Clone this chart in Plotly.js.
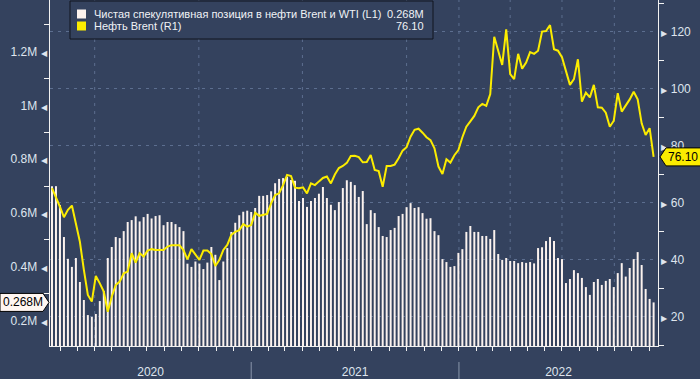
<!DOCTYPE html>
<html><head><meta charset="utf-8">
<script src="https://cdn.plot.ly/plotly-3.0.1.min.js"></script>
<style>html,body{margin:0;padding:0;background:#34425e;}#chart{width:700px;height:379px;}</style>
</head><body><div id="chart"></div>
<script>
// ---- data ----
const firstWeek = '2020-01-17';   // weekly (Friday) observations
const positions = [
0.70,0.70,0.63,0.511,0.43,0.40,0.433,0.344,0.277,0.221,
0.214,0.225,0.273,0.31,0.433,0.474,0.511,0.507,0.533,0.567,
0.574,0.588,0.569,0.585,0.597,0.58,0.589,0.592,0.555,0.567,
0.567,0.559,0.548,0.533,0.412,0.40,0.42,0.412,0.392,0.416,
0.474,0.445,0.351,0.42,0.47,0.53,0.564,0.592,0.605,0.609,
0.604,0.619,0.664,0.664,0.667,0.681,0.711,0.727,0.73,0.735,
0.723,0.72,0.645,0.656,0.623,0.645,0.656,0.672,0.697,0.656,
0.631,0.611,0.641,0.693,0.722,0.716,0.704,0.66,0.682,0.559,
0.611,0.60,0.548,0.515,0.511,0.537,0.545,0.589,0.597,0.622,
0.637,0.619,0.622,0.60,0.579,0.581,0.533,0.518,0.429,0.418,
0.40,0.403,0.452,0.466,0.53,0.552,0.53,0.53,0.515,0.515,
0.504,0.537,0.448,0.426,0.433,0.422,0.422,0.414,0.418,0.415,
0.418,0.413,0.47,0.473,0.496,0.511,0.496,0.433,0.429,0.34,
0.355,0.388,0.377,0.359,0.325,0.296,0.344,0.355,0.333,0.348,
0.355,0.325,0.377,0.414,0.364,0.396,0.429,0.455,0.407,0.318,
0.281,0.268];
const brent = [
65.1,62.1,58.6,54.9,57.5,59.0,52.2,46.3,36.4,27.6,
25.3,34.3,31.7,28.8,21.7,27.0,31.1,32.3,35.2,35.8,
42.3,39.0,42.3,41.1,43.2,43.7,43.4,43.4,43.4,44.6,
45.1,45.1,45.1,43.4,40.1,43.7,41.9,39.9,43.2,43.2,
42.0,37.8,39.9,43.4,45.2,48.7,49.8,50.4,52.5,51.6,
52.2,56.5,55.4,55.7,56.1,59.8,62.7,63.3,66.2,69.8,
69.4,65.3,65.1,65.4,63.3,66.8,66.2,67.5,68.7,69.2,
66.8,69.9,72.2,72.9,74.0,76.4,76.5,76.0,74.2,74.3,
76.8,71.5,71.1,65.6,72.9,72.9,73.4,75.6,78.3,79.5,
83.2,85.6,86.0,84.6,83.0,82.0,79.1,72.7,70.1,75.3,
74.1,76.7,78.5,83.0,86.7,88.6,90.5,93.5,94.7,94.0,
98.2,118.3,113.1,108.4,120.9,105.2,103.4,112.3,107.1,109.2,
112.9,112.3,113.4,120.1,120.3,122.4,113.9,113.4,111.1,106.0,
101.4,103.4,110.4,95.5,98.7,97.0,101.4,93.5,93.4,91.6,
86.7,88.8,98.5,92.0,94.0,96.3,99.0,96.3,87.9,83.8,
86.2,76.1];
const seriesNames = ['Чистая спекулятивная позиция в нефти Brent и WTI (L1)', 'Нефть Brent (R1)'];
const leftTickVals = [0.2,0.4,0.6,0.8,1.0,1.2];
const leftTickText = ['0.2M','0.4M','0.6M','0.8M','1M','1.2M'];
const leftMinorVals = [0.3,0.5,0.7,0.9,1.1,1.3];
const rightTickVals = [20,40,60,80,100,120];
const rightTickText = ['20','40','60','80','100','120'];
const rightMinorVals = [10,30,50,70,90,110,130];
const yearLabels = ['2020','2021','2022'];
const yearStarts = ['2021-01-01','2022-01-01'];
const gridDates = ['2020-04-01','2020-10-01','2021-04-01','2021-10-01','2022-01-01','2022-04-01','2022-07-01','2022-10-01'];

// ---- derived ----
const DAY = 86400000;
const t0 = Date.parse(firstWeek + 'T00:00:00Z');
const dates = positions.map((_, i) => new Date(t0 + i * 7 * DAY).toISOString().slice(0, 10));
const xRange = ['2020-01-13 12:00', '2022-12-16 17:00'];
const bounds = [xRange[0].replace(' ', 'T') + ':00Z', yearStarts[0] + 'T00:00:00Z', yearStarts[1] + 'T00:00:00Z', xRange[1].replace(' ', 'T') + ':00Z'].map(Date.parse);
const yearCenters = yearLabels.map((_, i) => new Date((bounds[i] + bounds[i + 1]) / 2).toISOString().slice(0, 19).replace('T', ' '));
const lastPos = positions[positions.length - 1];
const lastBrent = brent[brent.length - 1];

// ---- styling ----
const BG = '#34425e', AX = '#f2f2f2', TXT = '#dfe5ee', GRID = '#5c6e8f';
const FONT = 'Liberation Sans, Arial, sans-serif';
const W = 700, H = 379, ML = 50, MR = 42, MT = 0, MB = 33;
const PW = W - ML - MR, PH = H - MT - MB;
const px = x => (x - ML) / PW, py = y => (PH + MT - y) / PH;
const tri = '<span style="font-size:8px">';

const traces = [
  {type: 'bar', name: seriesNames[0], x: dates, y: positions, yaxis: 'y',
   marker: {color: '#fbf2ee', line: {width: 0}}, hoverinfo: 'skip'},
  {type: 'scatter', mode: 'lines', name: seriesNames[1], x: dates, y: brent, yaxis: 'y2',
   line: {color: '#fbec00', width: 2}, hoverinfo: 'skip'}
];

const shapes = [];
gridDates.forEach(d => shapes.push({type: 'line', xref: 'x', yref: 'paper', x0: d, x1: d, y0: 0, y1: 1,
  layer: 'below', line: {color: GRID, width: 1, dash: '3px,5px'}}));
yearStarts.forEach(d => shapes.push({type: 'line', xref: 'x', yref: 'paper', x0: d, x1: d,
  y0: py(362), y1: py(379), line: {color: '#8a96ab', width: 1}}));
// legend box
shapes.push({type: 'rect', xref: 'paper', yref: 'paper', x0: px(70), x1: px(433), y0: py(39), y1: py(1),
  fillcolor: BG, line: {color: '#10151f', width: 1}, layer: 'above'});
shapes.push({type: 'rect', xref: 'paper', yref: 'paper', x0: px(77), x1: px(86), y0: py(18.5), y1: py(9.5),
  fillcolor: '#fbf2ee', line: {width: 0}, layer: 'above'});
shapes.push({type: 'rect', xref: 'paper', yref: 'paper', x0: px(77), x1: px(86), y0: py(30.5), y1: py(21.5),
  fillcolor: '#fbec00', line: {width: 0}, layer: 'above'});
// last-value tags
shapes.push({type: 'path', xref: 'paper', yref: 'y', xsizemode: 'pixel', ysizemode: 'pixel',
  xanchor: 0, yanchor: lastPos, path: 'M-50,-9 L-7,-9 L-1,0 L-7,9 L-50,9 Z',
  fillcolor: '#fff6f1', line: {color: '#000000', width: 1}, layer: 'above'});
shapes.push({type: 'path', xref: 'paper', yref: 'y2', xsizemode: 'pixel', ysizemode: 'pixel',
  xanchor: 1, yanchor: lastBrent, path: 'M2,0 L8,-9 L44,-9 L44,9 L8,9 Z',
  fillcolor: '#fbec00', line: {color: '#000000', width: 1}, layer: 'above'});

const lf = {family: FONT, size: 11, color: '#f0f2f6'};
const annotations = [
  {xref: 'paper', yref: 'paper', x: px(92), y: py(14), xanchor: 'left', yanchor: 'middle', text: seriesNames[0], showarrow: false, font: lf},
  {xref: 'paper', yref: 'paper', x: px(92), y: py(26), xanchor: 'left', yanchor: 'middle', text: seriesNames[1], showarrow: false, font: lf},
  {xref: 'paper', yref: 'paper', x: px(426), y: py(14), xanchor: 'right', yanchor: 'middle', text: lastPos.toFixed(3) + 'M', showarrow: false, font: lf},
  {xref: 'paper', yref: 'paper', x: px(426), y: py(26), xanchor: 'right', yanchor: 'middle', text: lastBrent.toFixed(2), showarrow: false, font: lf},
  {xref: 'paper', yref: 'y', x: 0, y: lastPos, xanchor: 'right', yanchor: 'middle', xshift: -5, text: lastPos.toFixed(3) + 'M', showarrow: false,
   font: {family: FONT, size: 12, color: '#000000'}},
  {xref: 'paper', yref: 'y2', x: 1, y: lastBrent, xanchor: 'left', yanchor: 'middle', xshift: 8, text: lastBrent.toFixed(2), showarrow: false,
   font: {family: FONT, size: 12, color: '#000000'}}
];

const layout = {
  width: W, height: H, margin: {l: ML, r: MR, t: MT, b: MB, pad: 0},
  paper_bgcolor: BG, plot_bgcolor: BG, showlegend: false, bargap: 0.5,
  font: {family: FONT, size: 12, color: TXT},
  xaxis: {type: 'date', range: xRange, tickmode: 'array', tickvals: yearCenters, ticktext: yearLabels,
    ticks: '', ticklabelstandoff: 15, showgrid: false, zeroline: false, showline: true, linecolor: AX, linewidth: 1,
    tickfont: {family: FONT, size: 12, color: TXT},
    minor: {tickmode: 'linear', tick0: '2020-01-01', dtick: 'M1', ticks: 'outside', ticklen: 4, tickcolor: AX, tickwidth: 1, showgrid: false}},
  yaxis: {range: [0.106, 1.392], side: 'left', tickmode: 'array', tickvals: leftTickVals,
    ticktext: leftTickText.map(t => t + ' ' + tri + '◀</span>'), ticks: '', ticklabelstandoff: 0,
    showgrid: false, zeroline: false, showline: true, linecolor: AX, linewidth: 1,
    tickfont: {family: FONT, size: 12, color: TXT},
    minor: {tickmode: 'array', tickvals: leftMinorVals, ticks: 'outside', ticklen: 5, tickcolor: AX, showgrid: false}},
  yaxis2: {range: [9.69, 131.2], overlaying: 'y', side: 'right', tickmode: 'array', tickvals: rightTickVals,
    ticktext: rightTickText.map(t => tri + '▶</span> ' + t), ticks: '', ticklabelstandoff: 0,
    showgrid: true, gridcolor: GRID, griddash: '3px,5px', gridwidth: 1, zeroline: false,
    showline: true, linecolor: AX, linewidth: 1, tickfont: {family: FONT, size: 12, color: TXT},
    minor: {tickmode: 'array', tickvals: rightMinorVals, ticks: 'outside', ticklen: 5, tickcolor: AX, showgrid: false}},
  shapes: shapes, annotations: annotations
};

Plotly.newPlot('chart', traces, layout, {staticPlot: true, displayModeBar: false});
</script></body></html>
